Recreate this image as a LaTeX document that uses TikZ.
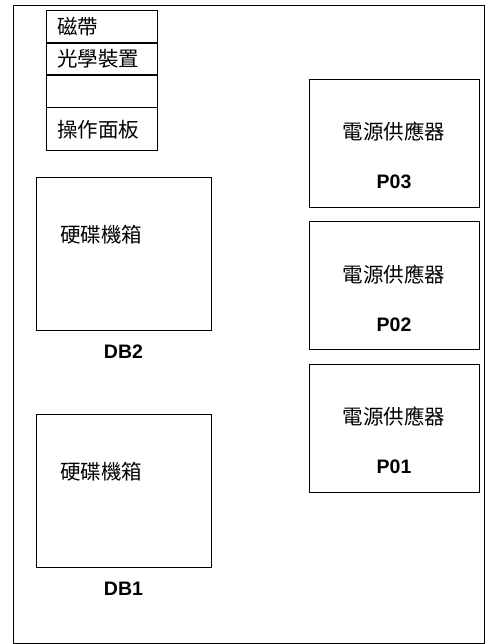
\documentclass[tikz,border=0pt]{standalone}
\usepackage{fontspec}
\setmainfont{Liberation Sans}
\newfontfamily\cjk{Noto Sans CJK TC}
\usetikzlibrary{positioning,calc}

\begin{document}
\begin{tikzpicture}[
        x=1pt, y=-1pt,
        line width=0.8pt,
        cjktext/.style={font=\cjk\fontsize{20.5}{21}\selectfont, inner sep=0pt},
        tag/.style={font=\bfseries\fontsize{19.5}{19.5}\selectfont, inner sep=0pt},
        cell/.style={rectangle, draw, minimum width=111pt, text width=89pt,
                     inner xsep=11pt, inner ysep=0pt, align=left, cjktext},
        psu/.style={rectangle, draw, minimum width=170pt, minimum height=128pt},
        chassis/.style={rectangle, draw, minimum width=175pt, minimum height=153pt},
    ]
        \useasboundingbox (0,0) rectangle (488,644);
        \draw (13,5) rectangle (484,643);
        % media bay stack
        \node[cell, minimum height=32pt, anchor=north] (tape) at (101.5,10) {磁帶};
        \node[cell, minimum height=31pt, below=0pt of tape] (optical) {光學裝置};
        \node[cell, minimum height=32pt, below=0pt of optical] (blank) {};
        \node[cell, minimum height=43pt, below=0pt of blank] (panel) {操作面板};
        % power supplies
        \foreach \y/\name in {143/P03, 285.5/P02, 428/P01} {
            \node[psu] (\name) at (394,\y) {};
            \node[cjktext] (\name-txt) at ($(\name.center)+(0,-11)$) {電源供應器};
            \node[tag] (\name-tag) at ($(\name.center)+(0,39)$) {\name};
        }
        % disk chassis
        \foreach \y/\name in {253.5/DB2, 490.5/DB1} {
            \node[chassis] (\name) at (123.5,\y) {};
            \node[cjktext, anchor=west] (\name-txt) at ($(\name.west)+(24,-19)$) {硬碟機箱};
            \node[tag] (\name-tag) at ($(\name.south)+(0,21)$) {\name};
        }
    \end{tikzpicture}
\end{document}
